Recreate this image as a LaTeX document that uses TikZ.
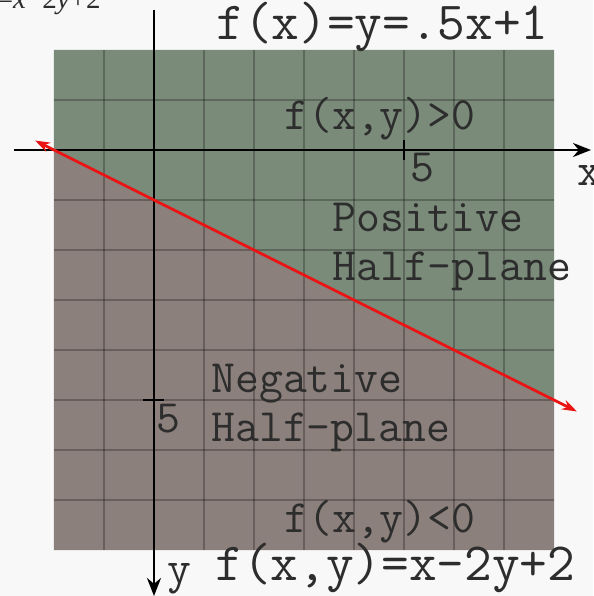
\documentclass[tikz,border=0pt]{standalone}
\usepackage{fontspec}
\newfontfamily\seriffont{Liberation Serif}
\usepackage{tikz}
\usetikzlibrary{arrows.meta}
\usetikzlibrary{positioning}

\definecolor{bgcol}{RGB}{248,248,248}
\definecolor{poscol}{RGB}{122,139,122}
\definecolor{negcol}{RGB}{139,128,123}
\definecolor{txtcol}{RGB}{45,45,45}
\definecolor{linecol}{RGB}{235,20,20}

\begin{document}
\begin{tikzpicture}[
  biglabel/.style={font=\ttfamily\fontsize{30.6}{32}\selectfont,text=txtcol,inner sep=0pt,anchor=base west},
  midlabel/.style={font=\ttfamily\fontsize{26.4}{28}\selectfont,text=txtcol,inner sep=0pt,anchor=base west},
  gridline/.style={black,opacity=0.25,line width=1.6pt},
  axis/.style={black,line width=1.7pt,-{Stealth[length=0.36cm,width=0.28cm]}}
]
\useasboundingbox (-3.08,3.0) rectangle (8.78,-8.92);
\fill[bgcol] (-3.08,3.0) rectangle (8.78,-8.92);

% half-planes
\fill[poscol] (-2,2) -- (8,2) -- (8,-5) -- (-2,0) -- cycle;
\fill[negcol] (-2,0) -- (8,-5) -- (8,-8) -- (-2,-8) -- cycle;
\foreach \i in {-1,...,7} {
  \draw[gridline] (\i,2) -- (\i,-8);
}
\foreach \j in {1,...,-7} {
  \draw[gridline] (-2,\j) -- (8,\j);
}

% axes
\coordinate (xstart) at (-2.8,0);
\coordinate (xend) at (8.74,0);
\coordinate (ystart) at (0,2.8);
\coordinate (yend) at (0,-8.92);
\draw[axis] (xstart) -- (xend);
\draw[axis] (ystart) -- (yend);
\draw[black,line width=1.5pt] (5,0.2) -- (5,-0.2);
\draw[black,line width=1.5pt] (-0.22,-5) -- (0.2,-5);
\node[midlabel] (xtick) at (5.12,-0.64) {5};
\node[midlabel] (ytick) at (0.04,-5.64) {5};
\node[midlabel] (xlab) at (8.46,-0.7) {x};
\node[midlabel] (ylab) at (0.26,-8.66) {y};

% f(x,y)=0
\coordinate (lstart) at (-2.38,0.19);
\coordinate (lend) at (8.46,-5.23);
\draw[linecol,line width=1.6pt,{Stealth[length=0.3cm,width=0.2cm]}-{Stealth[length=0.3cm,width=0.2cm]}] (lstart) -- (lend);

% labels
\node[font=\seriffont\fontsize{16.5}{18}\selectfont,text=txtcol,inner sep=0pt,anchor=base east] (title) at (-1.06,2.82) {=\textit{x}−2\textit{y}+2};
\node[biglabel] (eqtop) at (1.24,2.2) {f(x)=y=.5x+1};
\node[biglabel] (eqbot) at (1.22,-8.6) {f(x,y)=x-2y+2};
\node[midlabel] (gtzero) at (2.6,0.4) {f(x,y)>0};
\node[midlabel] (ltzero) at (2.6,-7.64) {f(x,y)<0};
\node[midlabel] (pos) at (3.56,-1.62) {Positive};
\node[midlabel] (poshalf) at (3.56,-2.6) {Half-plane};
\node[midlabel] (neg) at (1.14,-4.84) {Negative};
\node[midlabel] (neghalf) at (1.14,-5.82) {Half-plane};
\end{tikzpicture}
\end{document}
